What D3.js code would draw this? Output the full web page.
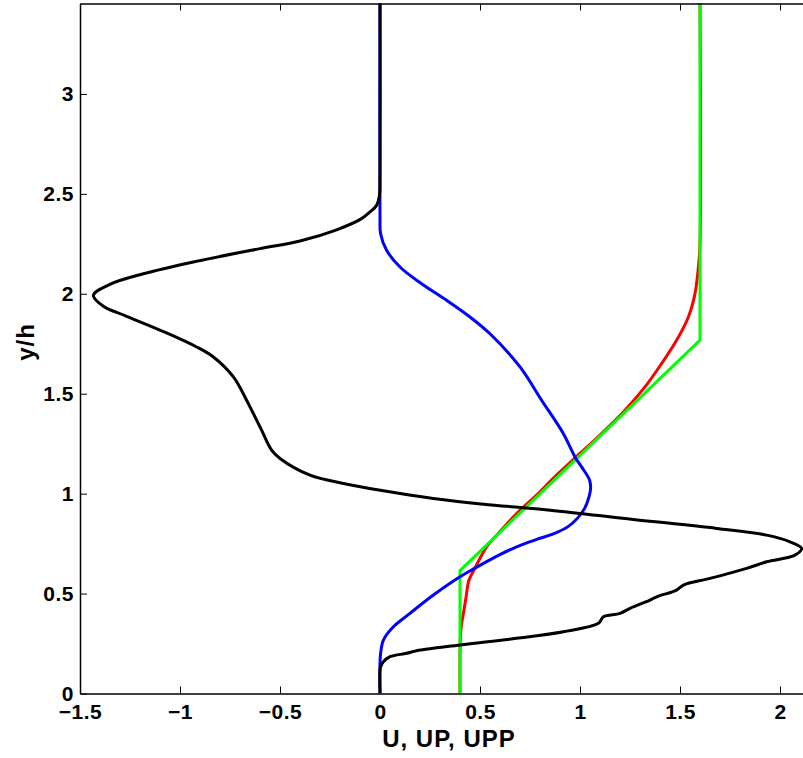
<!DOCTYPE html>
<html>
<head>
<meta charset="utf-8">
<script src="https://cdn.jsdelivr.net/npm/d3@7/dist/d3.min.js"></script>
<style>
  html, body { margin: 0; padding: 0; background: #fff; }
  svg { display: block; }
  text { font-family: "Liberation Sans", Arial, Helvetica, sans-serif; font-weight: bold; }
</style>
</head>
<body>
<svg id="chart" width="803" height="758"></svg>
<script>
// ---- data (x = value, y = y/h) ----
const xTicks = [-1.5, -1, -0.5, 0, 0.5, 1, 1.5, 2];
const yTicks = [0, 0.5, 1, 1.5, 2, 2.5, 3];
const xTickLabels = ["\u22121.5", "\u22121", "\u22120.5", "0", "0.5", "1", "1.5", "2"];
const yTickLabels = ["0", "0.5", "1", "1.5", "2", "2.5", "3"];
const xLabel = "U, UP, UPP";
const yLabel = "y/h";

// red: U
const redX = [0.4, 0.4, 0.403, 0.408, 0.417, 0.43, 0.445, 0.475, 0.533, 0.6, 0.683, 0.78, 0.88, 1.0, 1.108, 1.225, 1.325, 1.408, 1.483, 1.542, 1.575, 1.592, 1.6, 1.6];
const redY = [0.0, 0.2, 0.3, 0.35, 0.40, 0.48, 0.5675, 0.6275, 0.734, 0.81, 0.9, 0.99, 1.09, 1.201, 1.301, 1.4175, 1.534, 1.651, 1.7675, 1.884, 2.001, 2.134, 2.25, 3.46];

// green: UPP (piecewise linear)
const greenX = [0.4, 0.4, 1.6, 1.6];
const greenY = [0.0, 0.615, 1.768, 3.46];

// blue: UP
const blueX = [0, 0, 0.003, 0.017, 0.067, 0.15, 0.267, 0.4, 0.475, 0.58, 0.683, 0.78, 0.87, 0.94, 0.99, 1.025, 1.045, 1.053, 1.048, 1.008, 0.977, 0.917, 0.808, 0.70, 0.55, 0.45, 0.333, 0.208, 0.10, 0.033, 0.003, 0, 0];
const blueY = [0.0, 0.15, 0.2, 0.2675, 0.334, 0.401, 0.4925, 0.584, 0.6275, 0.685, 0.734, 0.77, 0.80, 0.835, 0.88, 0.93, 0.984, 1.025, 1.0675, 1.134, 1.18, 1.30, 1.4675, 1.634, 1.80, 1.884, 1.9675, 2.05, 2.134, 2.2175, 2.30, 2.384, 3.46];

// black: U''
const blackX = [0, 0, 0.003, 0.017, 0.05, 0.133, 0.183, 0.4, 0.683, 0.917, 1.092, 1.117, 1.2, 1.25, 1.35, 1.383, 1.483, 1.517, 1.65, 1.833, 1.933, 2.075, 2.108, 2.05, 1.933, 1.683, 1.267, 0.85, 0.517, 0.267, 0.017, -0.183, -0.35, -0.5, -0.542, -0.592, -0.633, -0.667, -0.733, -0.833, -0.917, -1.067, -1.267, -1.383, -1.433, -1.35, -1.183, -0.933, -0.6, -0.4, -0.217, -0.092, -0.05, -0.017, -0.003, 0, 0];
const blackY = [0.0, 0.12, 0.134, 0.159, 0.184, 0.201, 0.214, 0.2425, 0.276, 0.309, 0.351, 0.384, 0.401, 0.426, 0.4675, 0.484, 0.5175, 0.5425, 0.576, 0.626, 0.659, 0.6925, 0.726, 0.759, 0.7925, 0.826, 0.871, 0.9175, 0.9475, 0.976, 1.014, 1.051, 1.0925, 1.176, 1.2175, 1.3175, 1.40, 1.4675, 1.584, 1.684, 1.734, 1.804, 1.8875, 1.9375, 1.9925, 2.0475, 2.10, 2.159, 2.226, 2.264, 2.32, 2.376, 2.41, 2.4425, 2.49, 2.5675, 3.46];

const series = [
  { xs: redX, ys: redY, color: "#ff0000" },
  { xs: greenX, ys: greenY, color: "#00ff00" },
  { xs: blueX, ys: blueY, color: "#0000ff" },
  { xs: blackX, ys: blackY, color: "#000000" }
];

// ---- layout ----
const mLeft = 80, mRight = 817, mTop = 3.5, mBottom = 693.5;
const x = d3.scaleLinear().domain([-1.5, 2.185]).range([mLeft, mRight]);
const y = d3.scaleLinear().domain([0, 3.4525]).range([mBottom, mTop]);

const svg = d3.select("#chart");

svg.append("defs").append("clipPath").attr("id", "clip")
  .append("rect").attr("x", mLeft).attr("y", mTop).attr("width", mRight - mLeft).attr("height", mBottom - mTop);

const plot = svg.append("g").attr("clip-path", "url(#clip)");

const line = d3.line()
  .x(d => x(d[0]))
  .y(d => y(d[1]))
  .curve(d3.curveCatmullRom.alpha(0.5));
const lineLin = d3.line().x(d => x(d[0])).y(d => y(d[1]));

series.forEach((s, i) => {
  const pts = s.xs.map((v, k) => [v, s.ys[k]]);
  plot.append("path")
    .attr("d", (i === 1 ? lineLin : line)(pts))
    .attr("fill", "none")
    .attr("stroke", s.color)
    .attr("stroke-width", 3)
    .attr("stroke-linejoin", "round");
});

// axes
const xAxisB = d3.axisBottom(x).tickValues(xTicks).tickSize(-7).tickSizeOuter(0).tickFormat((d, i) => xTickLabels[i]).tickPadding(11);
const xAxisT = d3.axisTop(x).tickValues(xTicks).tickSize(-7).tickSizeOuter(0).tickFormat("");
const yAxisL = d3.axisLeft(y).tickValues(yTicks).tickSize(-7).tickSizeOuter(0).tickFormat((d, i) => yTickLabels[i]).tickPadding(6);
const yAxisR = d3.axisRight(y).tickValues(yTicks).tickSize(-7).tickSizeOuter(0).tickFormat("");

function style(g) {
  g.select(".domain").attr("stroke", "#000").attr("stroke-width", 1.5);
  g.selectAll(".tick line").attr("stroke", "#000").attr("stroke-width", 1);
  g.selectAll("text").attr("font-size", 21).attr("fill", "#000")
    .style("letter-spacing", "0.5px")
    .style("font-family", "'Liberation Sans', Arial, sans-serif").style("font-weight", "bold");
}

svg.append("g").attr("transform", `translate(0,${mBottom})`).call(xAxisB).call(style);
svg.append("g").attr("transform", `translate(0,${mTop})`).call(xAxisT).call(style);
svg.append("g").attr("transform", `translate(${mLeft},0)`).call(yAxisL).call(style);
svg.append("g").attr("transform", `translate(${mRight},0)`).call(yAxisR).call(style);

// axis labels
svg.append("text")
  .attr("x", 449).attr("y", 747)
  .attr("text-anchor", "middle")
  .attr("font-size", 24)
  .style("letter-spacing", "1px")
  .text(xLabel);

svg.append("text")
  .attr("transform", "translate(34,342) rotate(-90)")
  .attr("text-anchor", "middle")
  .attr("font-size", 24)
  .style("letter-spacing", "1px")
  .text(yLabel);
</script>
</body>
</html>
